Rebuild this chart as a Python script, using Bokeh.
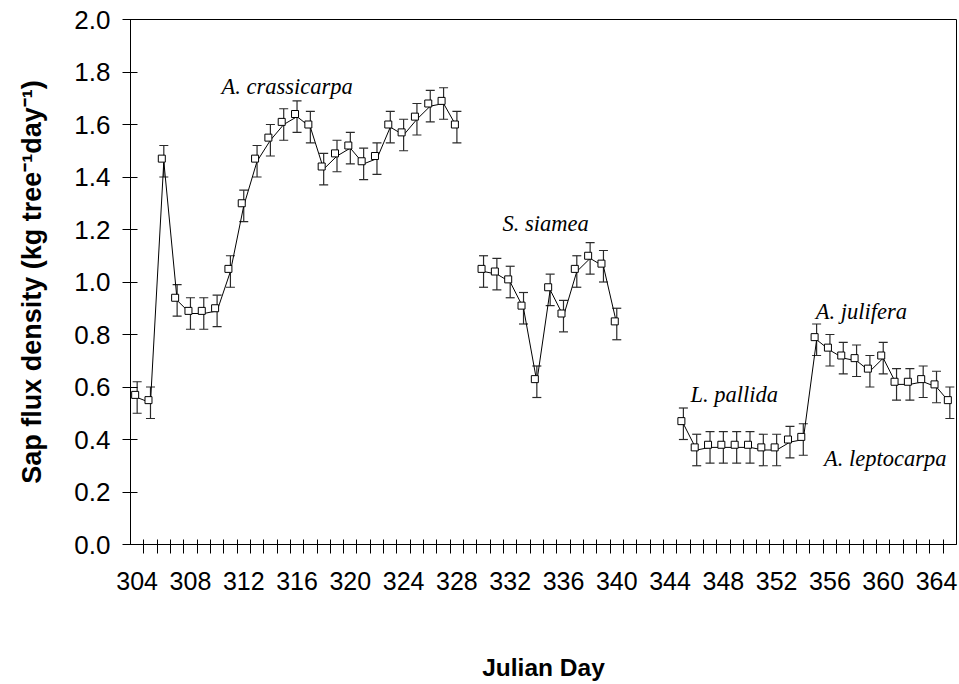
from bokeh.plotting import figure
from bokeh.models import (ColumnDataSource, Whisker, TeeHead, FixedTicker,
                          PrintfTickFormatter, Range1d, Label)
from bokeh.transform import dodge
from bokeh.embed import file_html
from bokeh.resources import INLINE

# Daily sap flux (kg tree-1 day-1), mean and error per day, by measurement run
days_crassicarpa = [304, 305, 306, 307, 308, 309, 310, 311, 312, 313, 314, 315, 316,
                    317, 318, 319, 320, 321, 322, 323, 324, 325, 326, 327, 328]
flux_crassicarpa = [0.56, 0.54, 1.46, 0.93, 0.88, 0.88, 0.89, 1.04, 1.29, 1.46, 1.54, 1.60, 1.63,
                    1.59, 1.43, 1.48, 1.51, 1.45, 1.47, 1.59, 1.56, 1.62, 1.67, 1.68, 1.59]
err_crassicarpa = [0.06] * 25

days_siamea = [330, 331, 332, 333, 334, 335, 336, 337, 338, 339, 340]
flux_siamea = [1.04, 1.03, 1.00, 0.90, 0.62, 0.97, 0.87, 1.04, 1.09, 1.06, 0.84]
err_siamea = [0.06] * 11

# L. pallida (345-354) runs straight on into A. julifera / A. leptocarpa (355-365)
days_late = [345, 346, 347, 348, 349, 350, 351, 352, 353, 354,
             355, 356, 357, 358, 359, 360, 361, 362, 363, 364, 365]
flux_late = [0.46, 0.36, 0.37, 0.37, 0.37, 0.37, 0.36, 0.36, 0.39, 0.40,
             0.78, 0.74, 0.71, 0.70, 0.66, 0.71, 0.61, 0.61, 0.62, 0.60, 0.54]
err_late = [0.06] * 21

day_labels = [304, 308, 312, 316, 320, 324, 328, 332, 336, 340, 344, 348, 352, 356, 360, 364]
flux_ticks = [0.0, 0.2, 0.4, 0.6, 0.8, 1.0, 1.2, 1.4, 1.6, 1.8, 2.0]

species_labels = [
    ("A. crassicarpa", 310.33, 1.743),
    ("S. siamea", 331.43, 1.222),
    ("L. pallida", 345.53, 0.571),
    ("A. julifera", 354.93, 0.889),
    ("A. leptocarpa", 355.55, 0.327),
]

SANS = "Liberation Sans"
SERIF = "Liberation Serif"

p = figure(frame_width=826, frame_height=525,
           x_range=Range1d(303.5, 365.5), y_range=Range1d(0, 2.0),
           output_backend="svg", toolbar_location=None,
           min_border_left=130, min_border_right=3,
           min_border_top=19, min_border_bottom=140)
p.background_fill_color = "white"
p.border_fill_color = "white"
p.grid.visible = False
p.outline_line_color = "black"
p.outline_line_width = 1

runs = [(days_crassicarpa, flux_crassicarpa, err_crassicarpa),
        (days_siamea, flux_siamea, err_siamea),
        (days_late, flux_late, err_late)]

for days, flux, err in runs:
    src = ColumnDataSource(dict(
        day=days, flux=flux,
        upper=[f + e for f, e in zip(flux, err)],
        lower=[f - e for f, e in zip(flux, err)],
    ))
    p.line("day", "flux", source=src, line_color="black", line_width=1)
    p.add_layout(Whisker(source=src, base="day", upper="upper", lower="lower",
                         dimension="height", line_color="#2a2a2a", line_width=1.2,
                         upper_head=TeeHead(size=9, line_color="#2a2a2a", line_width=1.2),
                         lower_head=TeeHead(size=9, line_color="#2a2a2a", line_width=1.2)))
    # open squares sit a touch up and to the left of each vertex
    p.scatter(dodge("day", -0.15), dodge("flux", 0.01), source=src, marker="square",
              size=7, fill_color="white", line_color="black", line_width=1)

for text, x, y in species_labels:
    p.add_layout(Label(x=x, y=y, text=text, text_font=SERIF, text_font_style="italic",
                       text_font_size="22.5px", text_color="black",
                       text_align="left", text_baseline="alphabetic"))

# x axis: numbers at whole days, cross ticks between days
xax = p.xaxis[0]
xax.ticker = FixedTicker(ticks=day_labels,
                         minor_ticks=[d + 0.5 for d in range(day_labels[0], day_labels[-1] + 1)])
xax.major_tick_line_color = None
xax.major_tick_in = 0
xax.major_tick_out = 9
xax.minor_tick_line_color = "black"
xax.minor_tick_in = 5
xax.minor_tick_out = 9
xax.major_label_standoff = 18
xax.major_label_text_font = SANS
xax.major_label_text_font_size = "25px"
xax.major_label_text_color = "black"
xax.axis_label = "Julian Day"
xax.axis_label_text_font = SANS
xax.axis_label_text_font_style = "bold"
xax.axis_label_text_font_size = "24.5px"
xax.axis_label_text_color = "black"
xax.axis_label_standoff = 61
xax.axis_line_color = "black"

yax = p.yaxis[0]
yax.ticker = FixedTicker(ticks=flux_ticks, minor_ticks=[])
yax.formatter = PrintfTickFormatter(format="%.1f")
yax.major_tick_in = 7
yax.major_tick_out = 8
yax.major_tick_line_color = "black"
yax.major_label_standoff = 12
yax.major_label_text_font = SANS
yax.major_label_text_font_size = "26px"
yax.major_label_text_color = "black"
yax.axis_label = "Sap flux density (kg tree\u207b\u00b9day\u207b\u00b9)"
yax.axis_label_text_font = SANS
yax.axis_label_text_font_style = "bold"
yax.axis_label_text_font_size = "27px"
yax.axis_label_text_color = "black"
yax.axis_label_standoff = 24
yax.axis_line_color = "black"

open("out.html", "w").write(file_html(p, INLINE))
